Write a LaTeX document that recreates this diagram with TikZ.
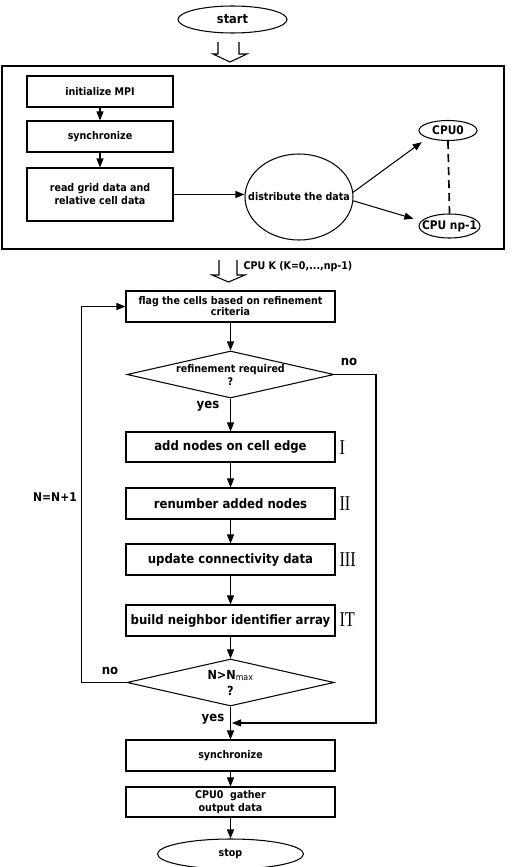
\documentclass[tikz,border=0pt]{standalone}
\usepackage{fontspec}
\usepackage{graphicx}
\setmainfont{DejaVu Sans Condensed}
\newfontfamily\romanfont{Liberation Serif}
\usetikzlibrary{shapes.geometric,arrows.meta}
\newcommand{\smallfont}{\bfseries\fontsize{10.6}{13}\selectfont}
\newcommand{\largefont}{\bfseries\fontsize{13}{15}\selectfont}
\newcommand{\midfont}{\bfseries\fontsize{11.8}{14}\selectfont}
\begin{document}
\begin{tikzpicture}[x=1pt,y=-1pt,line width=1.05pt,
  every node/.style={font=\smallfont, inner sep=0pt},
  smallbox/.style={draw, minimum width=146pt, minimum height=31pt, align=center, font=\smallfont},
  flowbox/.style={draw, minimum width=209pt, minimum height=31pt, align=center, font=\smallfont},
  bigtext/.style={font=\largefont},
  oval/.style={ellipse, draw},
  decision/.style={diamond, draw, aspect=4.4, minimum width=207pt, minimum height=47pt},
  flow/.style={-{Triangle[length=9pt,width=7pt]}},
  numeral/.style={anchor=west, font=\romanfont\fontsize{21}{21}\selectfont},
  lbl/.style={font=\smallfont}
]
\useasboundingbox (0,0) rectangle (514,867);

% top part
\node[oval, minimum width=109pt, minimum height=27pt, label={[font=\bfseries\fontsize{12.7}{15}\selectfont]center:start}] (start) at (232.5,19.5) {};
\draw (218,42) -- (218,54) -- (213,54) -- (230,62) -- (247,54) -- (239,54) -- (239,42);

\node[draw, minimum width=502pt, minimum height=183pt] (frame) at (253,157.5) {};
\node[smallbox] (init) at (100,91.5) {initialize MPI};
\node[smallbox] (sync1) at (100,136.5) {synchronize};
\node[smallbox, minimum height=53pt] (read) at (100,194.5) {read grid data and\\relative cell data};
\node[oval, minimum width=108pt, minimum height=86pt, label={center:distribute the data}] (dist) at (299,197) {};
\node[oval, minimum width=58pt, minimum height=20pt, label={[font=\midfont]center:CPU0}] (cpu0) at (448,130.5) {};
\node[oval, minimum width=61pt, minimum height=24pt, label={[font=\midfont]center:CPU np-1}] (cpunp) at (449.5,226) {};

\draw[flow] (init) -- (sync1);
\draw[flow] (sync1) -- (read);
\draw[flow] (read.east) -- (read.east -| dist.west);
\draw[flow, shorten >=7pt] (dist.5) -- (cpu0.200);
\draw[flow, shorten >=8pt] (dist.-4) -- (cpunp.170);
\draw[line width=1.7pt, dash pattern=on 8pt off 5pt] (cpu0.south) -- (cpunp.north);

% second part
\draw (219,260) -- (219,275) -- (212,275) -- (228.5,282) -- (245,275) -- (237,275) -- (237,260);
\node[lbl, anchor=west] (cpuk) at (243,267) {CPU K (K=0,...,np-1)};

\node[flowbox] (flag) at (230.5,306.5) {flag the cells based on refinement\\[-2pt]criteria};
\node[decision] (d1) at (230.5,374.5) {};
\node[lbl, align=center] (d1t) at (d1) {refinement required\\?};
\node[flowbox, bigtext, minimum height=30pt] (add) at (230.5,447) {add nodes on cell edge};
\node[flowbox, bigtext] (ren) at (230.5,503.5) {renumber added nodes};
\node[flowbox, bigtext] (upd) at (230.5,559.5) {update connectivity data};
\node[flowbox, bigtext] (build) at (230.5,620.5) {build neighbor identifier array};
\node[decision] (d2) at (230.5,682.5) {};
\node[lbl, align=center, font=\bfseries\fontsize{12.5}{15}\selectfont] (d2t) at (d2) {N>N\textsubscript{\mdseries max}\\[1pt]?};
\node[flowbox] (sync2) at (230.5,755.5) {synchronize};
\node[flowbox, minimum height=30pt] (gather) at (230.5,802) {CPU0\ \ gather\\output data};
\node[oval, minimum width=146pt, minimum height=30pt, label={center:stop}] (stop) at (230.5,854) {};

\node[numeral] (n1) at (339,447.5) {\scalebox{0.78}[1]{I}};
\node[numeral] (n2) at (339,504) {\scalebox{0.78}[1]{II}};
\node[numeral] (n3) at (339,560) {\scalebox{0.78}[1]{III}};
\node[numeral] (n4) at (339,620) {\scalebox{0.78}[1]{IT}};

\draw[flow] (flag) -- (d1);
\draw[flow] (d1) -- (add);
\draw[flow] (add) -- (ren);
\draw[flow] (ren) -- (upd);
\draw[flow] (upd) -- (build);
\draw[flow] (build) -- (d2);
\draw[flow] (d2) -- (sync2);
\draw[flow] (sync2) -- (gather);
\draw[flow] (gather) -- (stop);

\coordinate (rc) at (376,723);
\draw[flow, shorten >=1.5pt] (d1.east) -| (rc) -- (rc -| d2.south);
\draw[flow] (d2.west) -- ++(-45,0) |- (flag.west);

\node[lbl, font=\largefont] (no1) at (349,362) {no};
\node[lbl, font=\largefont] (yes1) at (208,406) {yes};
\node[lbl, font=\largefont] (no2) at (110,671) {no};
\node[lbl, font=\largefont] (yes2) at (213,719) {yes};
\node[lbl, font=\bfseries\fontsize{12}{14}\selectfont] (nn) at (55,497) {N=N+1};
\end{tikzpicture}
\end{document}
